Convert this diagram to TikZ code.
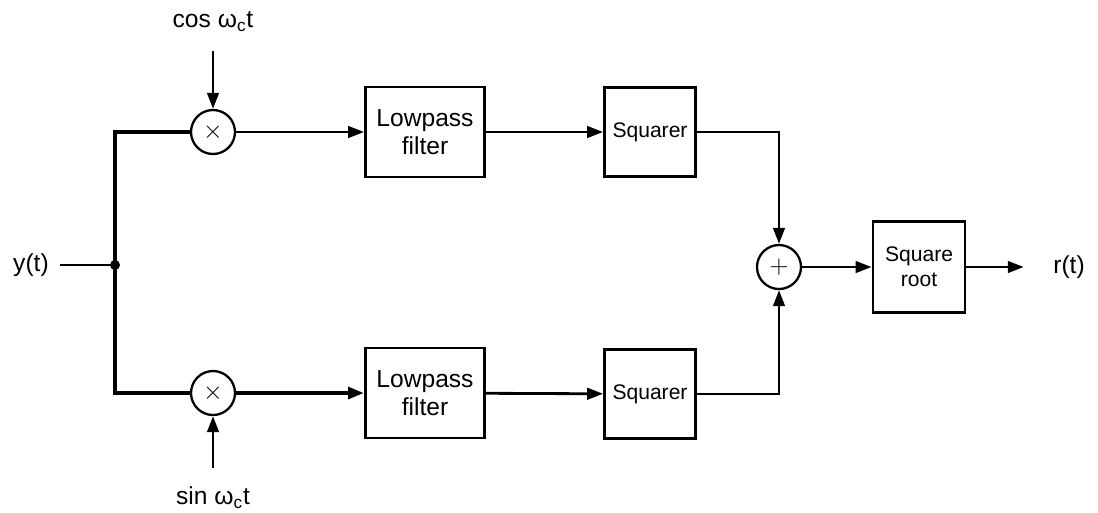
\documentclass[tikz,border=0pt]{standalone}
\usepackage{fontspec}
\setmainfont{Liberation Sans}
\usetikzlibrary{arrows.meta,positioning,calc}

\begin{document}
\begin{tikzpicture}[
    x=0.02cm, y=-0.02cm,
    line width=1.6pt,
    font=\fontsize{12}{14}\selectfont,
    blk/.style={draw, line width=1.6pt, align=center, inner sep=2pt, minimum width=1.82cm, minimum height=1.78cm},
    lpf/.style={blk, minimum width=2.38cm, minimum height=1.8cm, font=\fontsize{14}{16}\selectfont},
    mix/.style={draw, circle, line width=1.3pt, minimum size=0.88cm, inner sep=0pt, font=\fontsize{14}{16}\selectfont},
    sig/.style={font=\fontsize{14}{16}\selectfont, inner sep=2pt},
    arr/.style={-{Triangle[length=3.2mm, width=2.3mm]}},
    bus/.style={line width=2.6pt}
  ]
    \useasboundingbox (0,0) rectangle (1098,512);
    % multipliers and upper/lower branches
    \node[mix] (mu) at (213,132) {$\times$};
    \node[mix] (ml) at (213,393) {$\times$};
    \node[lpf] (lu) at (425,132) {Lowpass\\filter};
    \node[lpf] (ll) at (425,393) {Lowpass\\filter};
    \node[blk] (su) at (650,132) {Squarer};
    \node[blk] (sl) at (650,394) {Squarer};
    \node[mix] (sum) at (779,267) {$+$};
    \node[blk, minimum width=1.84cm, minimum height=1.82cm] (rt) at (919,267) {Square\\root};
    % signal labels
    \node[sig] (yin) at (31,265) {y(t)};
    \node[sig] (rout) at (1069,267) {r(t)};
    \node[sig] (cw) at (213,22) {cos ω\textsubscript{c}t};
    \node[sig] (sw) at (213,498) {sin ω\textsubscript{c}t};
    \coordinate (split) at (115,265);
    \draw (yin.east) ++(6,0) coordinate (yst) (yst) -- (split);
    \draw[bus] (split) |- (mu.west);
    \draw[bus] (split) |- (ml.west);
    \fill (split) circle (0.1cm);
    \draw[arr, shorten <=8pt] (cw) -- (mu);
    \draw[arr, shorten <=8pt] (sw) -- (ml);
    \draw[arr] (mu) -- (lu);
    \draw[arr, bus] (ml) -- (ll);
    \draw[arr] (lu) -- (su);
    \draw[arr] (ll) -- (sl);
    \draw[arr] (su.east) -| (sum.north);
    \draw[arr] (sl.east) -| (sum.south);
    \draw[arr] (sum) -- (rt);
    \draw[arr, shorten >=14pt] (rt) -- (rout);
  \end{tikzpicture}
\end{document}
